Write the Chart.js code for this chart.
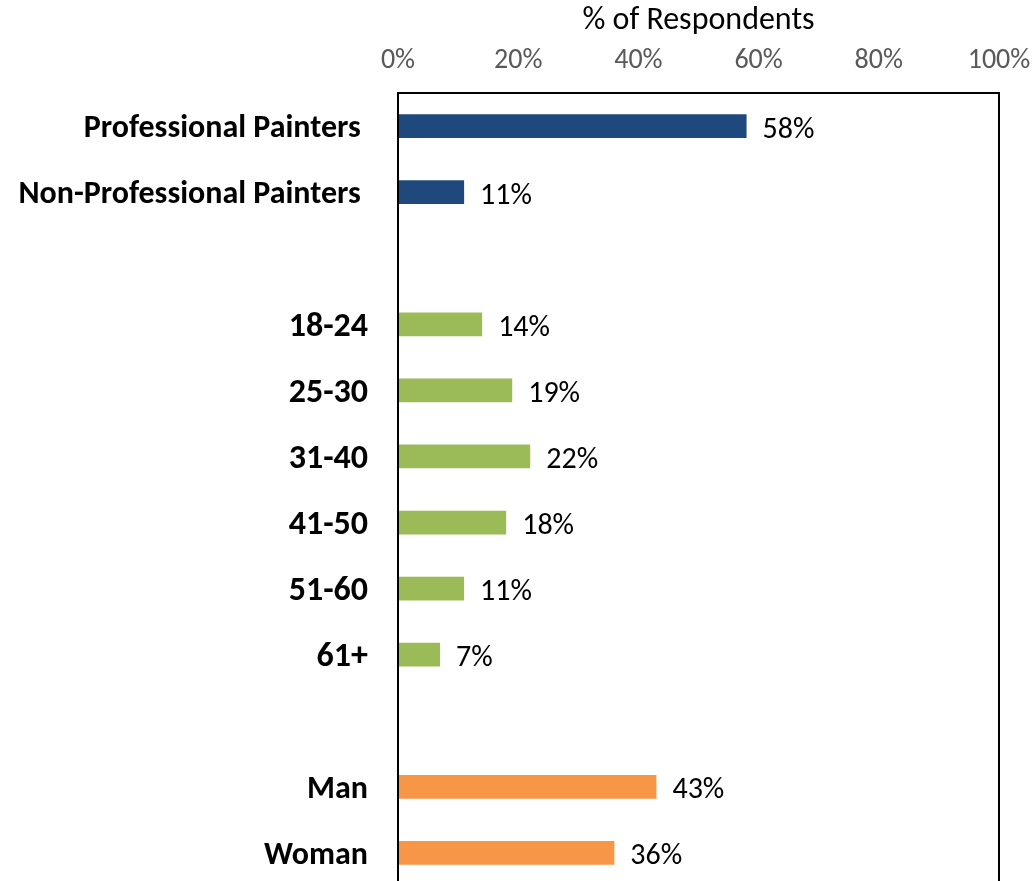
<!DOCTYPE html>
<html>
<head>
<meta charset="utf-8">
<script src="https://cdn.jsdelivr.net/npm/chart.js"></script>
<style>
  html, body { margin: 0; padding: 0; background: #fff; overflow: hidden; }
</style>
</head>
<body>
<canvas id="respChart" width="1033" height="890"></canvas>
<script>
// categories (blank rows are spacers between groups)
const categories = [
    "Professional Painters ", "Non-Professional Painters ", "",
    "18-24", "25-30", "31-40", "41-50", "51-60", "61+", "",
    "Man", "Woman"
];
const percentValues = [58, 11, null, 14, 19, 22, 18, 11, 7, null, 43, 36];
const barColors = [
    "#1F497D", "#1F497D", "#1F497D",
    "#9BBB59", "#9BBB59", "#9BBB59", "#9BBB59", "#9BBB59", "#9BBB59", "#9BBB59",
    "#F79646", "#F79646"
];
const xTickValues = [0, 20, 40, 60, 80, 100];
const axisTitle = "% of Respondents";

const FONT = "Calibri, Carlito, 'Open Sans', sans-serif";

// black frame round the plot area
const framePlugin = {
    id: "frame",
    afterDraw(chart) {
        const a = chart.chartArea;
        const c = chart.ctx;
        c.save();
        c.strokeStyle = "#000";
        c.lineWidth = 2;
        c.strokeRect(a.left, a.top, a.right - a.left, a.bottom - a.top);
        c.restore();
    }
};

// value labels after each bar
const valueLabels = {
    id: "valueLabels",
    afterDatasetsDraw(chart) {
        const c = chart.ctx;
        const meta = chart.getDatasetMeta(0);
        c.save();
        c.font = "30px " + FONT;
        c.fillStyle = "#000";
        c.textBaseline = "middle";
        c.textAlign = "left";
        meta.data.forEach((bar, i) => {
            const v = percentValues[i];
            if (v === null) return;
            c.fillText(v + "%", bar.x + 16, bar.y + 4);
        });
        c.restore();
    }
};

new Chart(document.getElementById("respChart").getContext("2d"), {
    type: "bar",
    data: {
        labels: categories,
        datasets: [{
            data: percentValues,
            backgroundColor: barColors,
            borderWidth: 0,
            barPercentage: 0.9,
            categoryPercentage: 0.4
        }]
    },
    options: {
        indexAxis: "y",
        responsive: false,
        animation: false,
        layout: { padding: { left: 0, right: 34, top: 0, bottom: 4 } },
        plugins: { legend: { display: false }, tooltip: { enabled: false } },
        scales: {
            x: {
                position: "top",
                min: 0,
                max: 100,
                afterBuildTicks(scale) {
                    scale.ticks = xTickValues.map(v => ({ value: v }));
                },
                afterFit(scale) {
                    scale.height = 93;
                    scale.paddingLeft = 0;
                    scale.paddingRight = 0;
                },
                grid: { display: false, drawTicks: false },
                border: { display: false },
                ticks: {
                    padding: 15,
                    color: "#595959",
                    font: { family: FONT, size: 28 },
                    callback: v => v + "%"
                },
                title: {
                    display: true,
                    text: axisTitle,
                    color: "#000",
                    font: { family: FONT, size: 32 },
                    padding: { top: 2, bottom: 4 }
                }
            },
            y: {
                afterFit(scale) {
                    scale.width = 398;
                    scale.paddingTop = 0;
                    scale.paddingBottom = 0;
                },
                grid: { display: false, drawTicks: false },
                border: { display: false },
                ticks: {
                    padding: 30,
                    labelOffset: 3,
                    color: "#000",
                    font: ctx => ({
                        family: FONT,
                        size: (ctx.index >= 3 && ctx.index <= 8) ? 34 : 32,
                        weight: "bold"
                    })
                }
            }
        }
    },
    plugins: [framePlugin, valueLabels]
});
</script>
</body>
</html>
